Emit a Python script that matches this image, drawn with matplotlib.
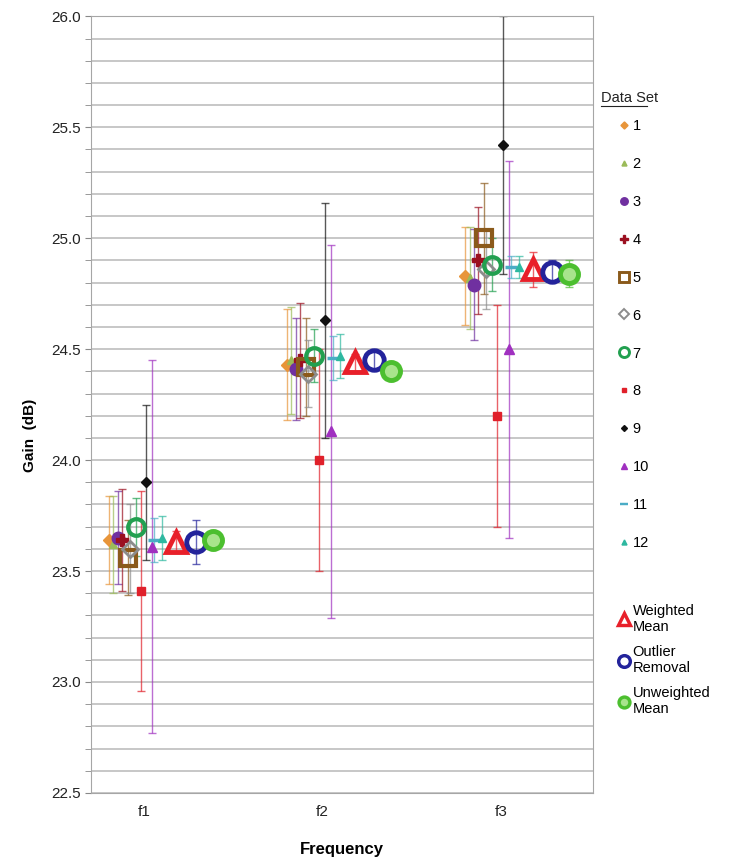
import numpy as np
import matplotlib
matplotlib.use('Agg')
import matplotlib.pyplot as plt
from matplotlib.lines import Line2D

plt.rcParams['font.family'] = ['Liberation Sans', 'DejaVu Sans']

freqs = ['f1', 'f2', 'f3']
series_names = ['1', '2', '3', '4', '5', '6', '7', '8', '9', '10', '11', '12',
                'Weighted\nMean', 'Outlier\nRemoval', 'Unweighted\nMean']

# gain (dB) and uncertainty per data set, one list per frequency
gain_f1 = [23.64, 23.62, 23.65, 23.64, 23.56, 23.60, 23.70, 23.41, 23.90, 23.61, 23.64, 23.65, 23.63, 23.63, 23.64]
err_f1 = [0.20, 0.22, 0.21, 0.23, 0.17, 0.20, 0.13, 0.45, 0.35, 0.84, 0.10, 0.10, 0.05, 0.10, 0.04]
gain_f2 = [24.43, 24.45, 24.41, 24.45, 24.42, 24.39, 24.47, 24.00, 24.63, 24.13, 24.46, 24.47, 24.44, 24.45, 24.40]
err_f2 = [0.25, 0.24, 0.23, 0.26, 0.22, 0.15, 0.12, 0.50, 0.53, 0.84, 0.10, 0.10, 0.04, 0.05, 0.03]
gain_f3 = [24.83, 24.82, 24.79, 24.90, 25.00, 24.86, 24.88, 24.20, 25.42, 24.50, 24.87, 24.87, 24.86, 24.85, 24.84]
err_f3 = [0.22, 0.23, 0.25, 0.24, 0.25, 0.18, 0.12, 0.50, 0.58, 0.85, 0.05, 0.05, 0.08, 0.05, 0.06]

gains = np.array([gain_f1, gain_f2, gain_f3])
errs = np.array([err_f1, err_f2, err_f3])

# horizontal spread of the sets around each frequency
offsets = [-0.20, -0.175, -0.15, -0.125, -0.095, -0.08, -0.05, -0.022, 0.011, 0.045,
           0.056, 0.10, 0.18, 0.29, 0.385]

styles = [
    dict(marker='D', ms=6, mfc='#E8953A', mec='#E8953A', mew=1, c='#E8953A'),
    dict(marker='^', ms=6, mfc='#9BBB59', mec='#9BBB59', mew=1, c='#9BBB59'),
    dict(marker='o', ms=9, mfc='#7030A0', mec='#7030A0', mew=1, c='#7030A0'),
    dict(marker='P', ms=9, mfc='#9B1020', mec='#9B1020', mew=1, c='#9B1020'),
    dict(marker='s', ms=12, mfc='none', mec='#8B5A1B', mew=3, c='#8B5A1B'),
    dict(marker='D', ms=8, mfc='none', mec='#8C8C8C', mew=2, c='#8C8C8C'),
    dict(marker='o', ms=12, mfc='none', mec='#22A050', mew=3, c='#22A050'),
    dict(marker='s', ms=6, mfc='#E0202A', mec='#E0202A', mew=1, c='#E0202A'),
    dict(marker='D', ms=5, mfc='#111111', mec='#111111', mew=1, c='#111111'),
    dict(marker='^', ms=7, mfc='#A030C0', mec='#A030C0', mew=1, c='#A030C0'),
    dict(marker='_', ms=9, mfc='#4BACC6', mec='#4BACC6', mew=2.5, c='#4BACC6'),
    dict(marker='^', ms=6, mfc='#2EB8A0', mec='#2EB8A0', mew=1, c='#2EB8A0'),
    dict(marker='^', ms=14, mfc='none', mec='#E8202A', mew=3.5, c='#E8202A'),
    dict(marker='o', ms=14, mfc='none', mec='#23239B', mew=3.5, c='#23239B'),
    dict(marker='o', ms=13, mfc='#A8E48C', mec='#4CBF2F', mew=3.5, c='#4CBF2F'),
]

fig = plt.figure(figsize=(7.52, 8.6), dpi=100)
ax = fig.add_axes([0.121, 0.078, 0.668, 0.903])

xbase = np.arange(1, len(freqs) + 1)
for i, st in enumerate(styles):
    ax.errorbar(xbase + offsets[i], gains[:, i], yerr=errs[:, i], fmt='none',
                ecolor=st['c'], elinewidth=1, capsize=3, capthick=1, alpha=0.7, zorder=2 + i * 0.01)
    ax.plot(xbase + offsets[i], gains[:, i], ls='none', marker=st['marker'], ms=st['ms'],
            mfc=st['mfc'], mec=st['mec'], mew=st['mew'], zorder=3 + i * 0.01)

ax.set_xlim(0.70, 3.52)
ax.set_ylim(22.5, 26.0)
ax.set_xticks(xbase)
ax.set_xticklabels(freqs, fontsize=11, color='#222222')
ax.tick_params(axis='x', length=0, pad=9)
ax.set_yticks(np.arange(22.5, 26.01, 0.5))
ax.set_yticklabels(['%.1f' % v for v in np.arange(22.5, 26.01, 0.5)], fontsize=11, color='#222222')
ax.set_yticks(np.arange(22.5, 26.01, 0.1), minor=True)
ax.tick_params(axis='y', which='both', length=4, color='#888888', direction='out')
ax.grid(True, axis='y', which='both', color='#BDBDBD', lw=1.2)
ax.set_axisbelow(True)
for sp in ax.spines.values():
    sp.set_color('#A6A6A6')

ax.set_xlabel('Frequency', fontsize=12, fontweight='bold', labelpad=16)
ax.set_ylabel('Gain  (dB)', fontsize=11, fontweight='bold')
ax.yaxis.set_label_coords(-0.108, 0.46)

# legend: data sets
handles = []
for st in styles:
    handles.append(Line2D([], [], ls='none', marker=st['marker'], ms=st['ms'] * 0.6,
                          mfc=st['mfc'], mec=st['mec'], mew=max(st['mew'] * 0.7, 1)))

fig.legend(handles[:12], series_names[:12], loc='upper left',
           bbox_to_anchor=(0.822, 1 - 119 / 860), frameon=False, fontsize=10.5,
           handlelength=0.8, handletextpad=0.2, labelspacing=1.64,
           borderpad=0, borderaxespad=0)
fig.legend(handles[12:], series_names[12:], loc='upper left',
           bbox_to_anchor=(0.822, 1 - 604 / 860), frameon=False, fontsize=10.5,
           handlelength=0.8, handletextpad=0.2, labelspacing=0.75,
           borderpad=0, borderaxespad=0)

fig.text(601 / 752, 1 - 98 / 860, 'Data Set', ha='left', va='center', fontsize=10.5, color='#222222')
fig.add_artist(Line2D([601 / 752, 647 / 752], [1 - 106 / 860, 1 - 106 / 860], color='#222222', lw=0.8))

fig.savefig('out.png', dpi=100)
